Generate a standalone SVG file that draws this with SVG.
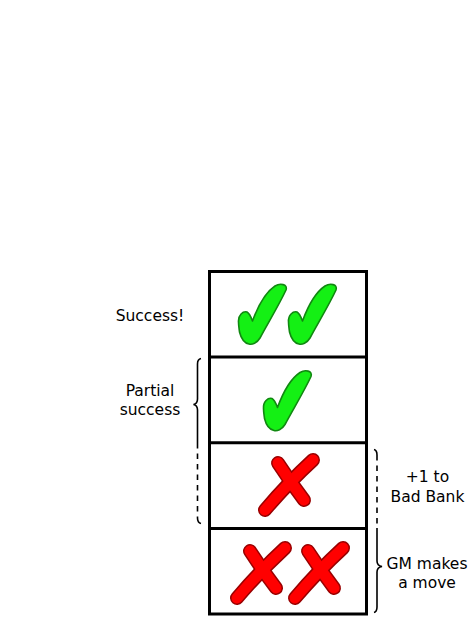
<svg xmlns="http://www.w3.org/2000/svg" width="469" height="617" viewBox="0 0 469 617">
<style>
text{font-family:"DejaVu Sans",sans-serif;font-size:15.5px;fill:#000;text-anchor:middle}
.check{fill:#14f014;stroke:#118811;stroke-width:1.6;stroke-linejoin:round}
.xo{fill:none;stroke:#990000;stroke-width:14;stroke-linecap:round}
.xi{fill:none;stroke:#ff0000;stroke-width:11;stroke-linecap:round}
.grid{fill:none;stroke:#000;stroke-width:3}
.brace{fill:none;stroke:#000;stroke-width:1.6}
.dash{stroke-dasharray:5.5 5}
</style>
<defs>
<path id="chk" d="M 1.5,37 C 1,30 6,26 10,27 C 12,28 14,32 15.5,36 C 21,21 29,7 38,1 C 43,-2 51,-1 49,5 C 42,20 31,38 23,53 C 20,58 15,60 12,59 C 7,58 4,53 2.5,47 C 2,43 1.5,40 1.5,37 Z"/>
<g id="crs">
<path class="xo" d="M 20,8 Q 33,28 46,45"/>
<path class="xo" d="M 55,5 Q 30,28 7,55"/>
<path class="xi" d="M 20,8 Q 33,28 46,45"/>
<path class="xi" d="M 55,5 Q 30,28 7,55"/>
</g>
</defs>
<g id="table">
<rect class="grid" x="209.5" y="271.5" width="157" height="342.5"/>
<line class="grid" x1="209.5" y1="357" x2="366.5" y2="357"/>
<line class="grid" x1="209.5" y1="442.75" x2="366.5" y2="442.75"/>
<line class="grid" x1="209.5" y1="528.5" x2="366.5" y2="528.5"/>
</g>
<g id="cell-success">
<use href="#chk" class="check" x="237" y="285"/>
<use href="#chk" class="check" x="287" y="285"/>
</g>
<g id="cell-partial">
<use href="#chk" class="check" x="262" y="371.5"/>
</g>
<g id="cell-fail1">
<use href="#crs" x="258" y="455"/>
</g>
<g id="cell-fail2">
<use href="#crs" x="230" y="543"/>
<use href="#crs" x="288" y="543"/>
</g>
<g id="label-success"><text x="150" y="321">Success!</text></g>
<g id="label-partial"><text x="150" y="395.5">Partial</text><text x="150" y="414.5">success</text></g>
<g id="label-badbank"><text x="427.5" y="482">+1 to</text><text x="427.5" y="502">Bad Bank</text></g>
<g id="label-gm"><text x="427" y="569">GM makes</text><text x="427" y="588">a move</text></g>
<g id="connectors">
<path class="brace" d="M 201,358.5 C 198.5,359 197.5,361 197.5,364 L 197.5,399 C 197.5,402 196,404 193.5,404.5 C 196,405 197.5,407 197.5,410 L 197.5,443"/>
<path class="brace dash" d="M 197.5,443 L 197.5,518"/>
<path class="brace" d="M 197.5,518 C 197.5,521 198.5,523 201,523.5"/>
<path class="brace" d="M 374,449.5 C 376,450 377,452 377,455"/>
<path class="brace dash" d="M 377,455 L 377,528"/>
<path class="brace" d="M 377,528 L 377,561 C 377,564 379,566 382,566.5 C 379,567 377,569 377,572 L 377,607 C 377,610 376,612 374,612.5"/>
</g>
</svg>
